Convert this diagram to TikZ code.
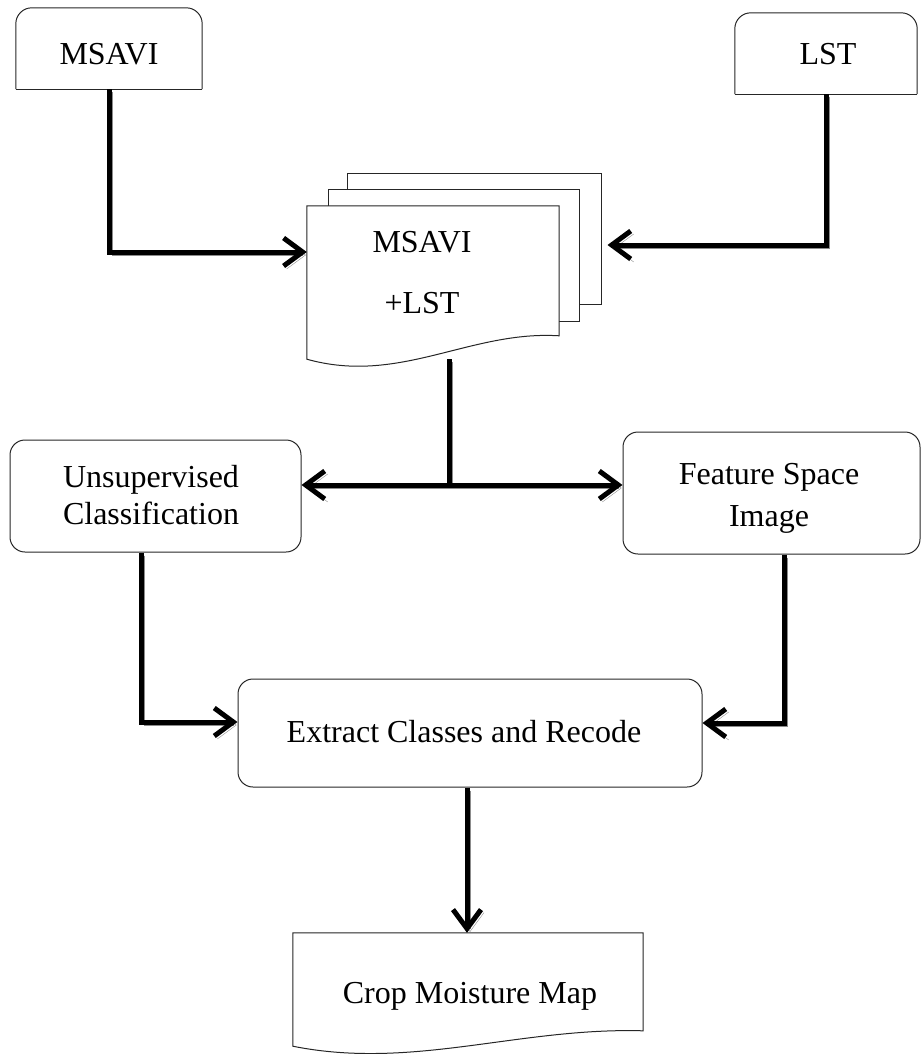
\documentclass[tikz,border=0pt]{standalone}
\usepackage{fontspec}
\setmainfont{Liberation Serif}
\usetikzlibrary{arrows.meta,calc}
\begin{document}
\begin{tikzpicture}[x=1pt,y=-1pt,
  outline/.style={draw=black!85, line width=1pt},
  area/.style={inner sep=0pt, draw=none, rectangle},
  rbox/.style={area, outline, rounded corners=15pt},
  txt/.style={font=\fontsize{32}{37}\selectfont, align=center, inner sep=0pt},
  conn/.style={line width=5pt, draw=black,
    preaction={draw=black!45, transform canvas={shift={(3pt,-3pt)}}}},
  barb/.tip={Straight Barb[length=19pt,width=28pt]},
  tip/.style={-barb},
  tipboth/.style={barb-barb},
]
\useasboundingbox (0,0) rectangle (921,1054);

% input boxes, rounded on top only
\node[area, minimum width=186pt, minimum height=81pt] (msavi) at (109,48.5) {};
\draw[outline, rounded corners=16pt] (msavi.south west) -- (msavi.north west) -- (msavi.north east) -- (msavi.south east);
\draw[outline] (msavi.south west) -- (msavi.south east);
\node[txt, anchor=base] at (109,65) {MSAVI};

\node[area, minimum width=182pt, minimum height=81pt] (lst) at (826,53.5) {};
\draw[outline, rounded corners=16pt] (lst.south west) -- (lst.north west) -- (lst.north east) -- (lst.south east);
\draw[outline] (lst.south west) -- (lst.south east);
\node[txt, anchor=base] at (828,65) {LST};

% stacked documents
\node[area, outline, fill=white, minimum width=254pt, minimum height=131pt] (page3) at (474,238.5) {};
\node[area, outline, fill=white, minimum width=251pt, minimum height=132pt] (page2) at (453.5,255) {};
\node[area, minimum width=252pt, minimum height=153pt] (doc) at (433,282.5) {};
\draw[outline, fill=white] (doc.south west) -- (doc.north west) -- (doc.north east)
  -- ($(doc.north east)+(0,130)$)
  .. controls ($(doc.south west)+(163,-29)$) and ($(doc.south west)+(93,26)$) .. (doc.south west) -- cycle;
\node[txt] at (422,272.5) {MSAVI\\[24pt]+LST};

% classification boxes
\node[rbox, minimum width=291pt, minimum height=112pt] (unsup) at (155.5,496) {};
\node[txt] at (151,495.5) {Unsupervised\\Classification};
\node[rbox, minimum width=297pt, minimum height=122pt] (feat) at (771.5,493) {};
\node[txt] at (769,498.5) {Feature Space\\[5pt]Image};

\node[rbox, minimum width=464pt, minimum height=108pt] (extract) at (470,733) {};
\node[txt, anchor=base] at (464,742) {Extract Classes and Recode};

% output document
\node[area, minimum width=350pt, minimum height=113pt] (crop) at (468,989.5) {};
\draw[outline, fill=white] (crop.south west) -- (crop.north west) -- (crop.north east)
  -- ($(crop.north east)+(0,98)$)
  .. controls ($(crop.south west)+(226,-19)$) and ($(crop.south west)+(120,24)$) .. (crop.south west) -- cycle;
\node[txt, anchor=base] at (470,1003) {Crop Moisture Map};

% connectors
\coordinate (split) at (449,485);
\draw[conn, tip] (msavi.south) |- (doc.west |- 0,252);
\draw[conn, tip, shorten >=6pt] (lst.south) |- (page3.east |- 0,245);
\draw[conn] (doc.south -| split) -- (split);
\draw[conn, tipboth] (unsup.east |- split) -- (feat.west |- split);
\draw[conn, tip] ([xshift=-14.5pt]unsup.south) |- (extract.west |- 0,722);
\draw[conn, tip] ([xshift=12.5pt]feat.south) |- (extract.east |- 0,723);
\draw[conn, tip] ([xshift=-3pt]extract.south) -- ([xshift=-1pt]crop.north);
\end{tikzpicture}
\end{document}
